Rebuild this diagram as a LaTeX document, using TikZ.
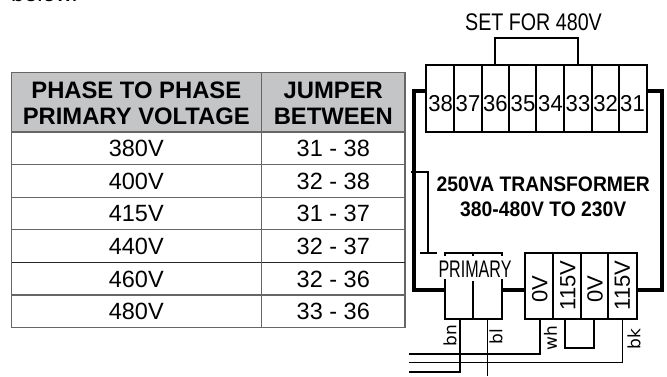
\documentclass[tikz,border=0pt]{standalone}
\usepackage{fontspec}
\setmainfont{Liberation Sans}
\newfontfamily\wirefont{DejaVu Sans}
\definecolor{headgrey}{HTML}{C4C5C7}
\begin{document}
\begin{tikzpicture}[x=1pt,y=-1pt,line join=miter,
  grid/.style={draw=black!60,line width=1.1pt},
  cell/.style={font=\fontsize{23.5}{23.5}\selectfont,inner sep=0,anchor=center},
  head/.style={font=\fontsize{23.8}{26.3}\bfseries\selectfont,inner sep=0,align=center,anchor=center},
  thick1/.style={line width=1.8pt},
  thick2/.style={line width=4pt},
  wire/.style={line width=1.6pt},
  term/.style={font=\fontsize{23}{23}\selectfont,inner sep=0,anchor=center},
  vterm/.style={font=\fontsize{22}{22}\selectfont,inner sep=0,anchor=center,rotate=90},
  wl/.style={font=\wirefont\fontsize{17}{17}\selectfont,inner sep=0,anchor=center,rotate=90}]
\useasboundingbox (0,0) rectangle (667,376);
\begin{scope}
\clip (0,0) rectangle (667,376);
\node[font=\fontsize{23.5}{23.5}\selectfont,anchor=base west,inner sep=0] (cut) at (11,1.5) {below.};
\end{scope}
% table
\fill[headgrey] (11.5,72.7) rectangle (405,132);
\draw[grid] (11.5,72.7) rectangle (405,327.7);
\foreach \y in {132,164.3,197.3,229.7,295} \draw[grid] (11.5,\y) -- (405,\y);
\draw[draw=black!85,line width=0.8pt] (11.5,262.3) -- (405,262.3);
\draw[grid] (261.7,72.7) -- (261.7,327.7);
\node[head] (h1) at (136.3,103) {PHASE TO PHASE\\PRIMARY VOLTAGE};
\node[head] (h2) at (333.3,103) {JUMPER\\BETWEEN};
\foreach \n/\y/\a/\b in {a/148.3/380V/31 - 38,b/181/400V/32 - 38,c/213.7/415V/31 - 37,d/246/440V/32 - 37,e/279/460V/32 - 36,f/311.5/480V/33 - 36}{
  \node[cell] (v\n) at (136.3,\y) {\a};
  \node[cell] (j\n) at (333.3,\y) {\b};
}
% top
\node[font=\fontsize{24}{24}\selectfont,inner sep=0] (set) at (533.5,22) {\scalebox{.82}[1]{SET FOR 480V}};
\draw[thick1] (495,65) -- (495,38.3) -- (577.7,38.3) -- (577.7,65);
\draw[thick2] (426,90.5) -- (413.5,90.5) -- (413.5,289.5) -- (445,289.5);
\draw[thick2] (646,90.5) -- (662,90.5) -- (662,289.5) -- (636,289.5);
\draw[thick2] (501,289.5) -- (526,289.5);
\draw[thick1] (426.3,65) rectangle (646.7,132.3);
\foreach \x in {454,481.7,509,536.3,564,591.7,619.3} \draw[thick1] (\x,65) -- (\x,132.3);
\foreach \x/\t in {440.6/38,468/37,495.3/36,523/35,550.5/34,578/33,605.6/32,632.5/31}
  \node[term] (t\t) at (\x,103.3) {\scalebox{.96}[1]{\t}};
\draw[thick1] (411,172) -- (428.3,172) -- (428.3,252.7);
\draw[thick1] (420,252.7) -- (437,252.7);
\node[font=\bfseries\fontsize{21}{25}\selectfont,align=center,inner sep=0] (tr) at (543.3,196.5) {\scalebox{.92}[1]{250VA TRANSFORMER}\\\scalebox{.92}[1]{380-480V TO 230V}};
% primary
\draw[thick1] (445.3,256) -- (445.3,252.7) -- (501.7,252.7) -- (501.7,256);
\draw[thick1] (445.3,279) -- (445.3,319.3) -- (501.7,319.3) -- (501.7,279);
\draw[thick1] (473,252.7) -- (473,256);
\draw[thick1] (473,281) -- (473,319.3);
\node[font=\fontsize{24}{24}\selectfont,inner sep=0] (pri) at (475,269) {\scalebox{.67}[1]{PRIMARY}};
% secondary
\draw[thick1] (525.3,252.7) rectangle (636.7,319.3);
\foreach \x in {552.7,580.7,608.3} \draw[thick1] (\x,252.7) -- (\x,319.3);
\foreach \x/\y/\t in {539.7/289/0V,568/285.5/115V,595/289/0V,622.5/285.5/115V}
  \node[vterm] at (\x,\y) {\t};
% jumper
\draw[thick1] (565,319.3) -- (565,348.3) -- (594.3,348.3) -- (594.3,319.3);
% wires
\draw[wire] (540,319.3) -- (540,354) -- (409.3,354);
\draw[wire] (622.3,319.3) -- (622.3,362.3) -- (409.3,362.3);
\draw[wire] (460,319.3) -- (460,371.7) -- (409.3,371.7);
\draw[wire] (487.3,319.3) -- (487.3,376);
\node[wl] (lbn) at (450,336) {bn};
\node[wl] (lbl) at (496,337) {bl};
\node[wl] (lwh) at (550.5,338) {wh};
\node[wl] (lbk) at (634,339) {bk};
\end{tikzpicture}
\end{document}
